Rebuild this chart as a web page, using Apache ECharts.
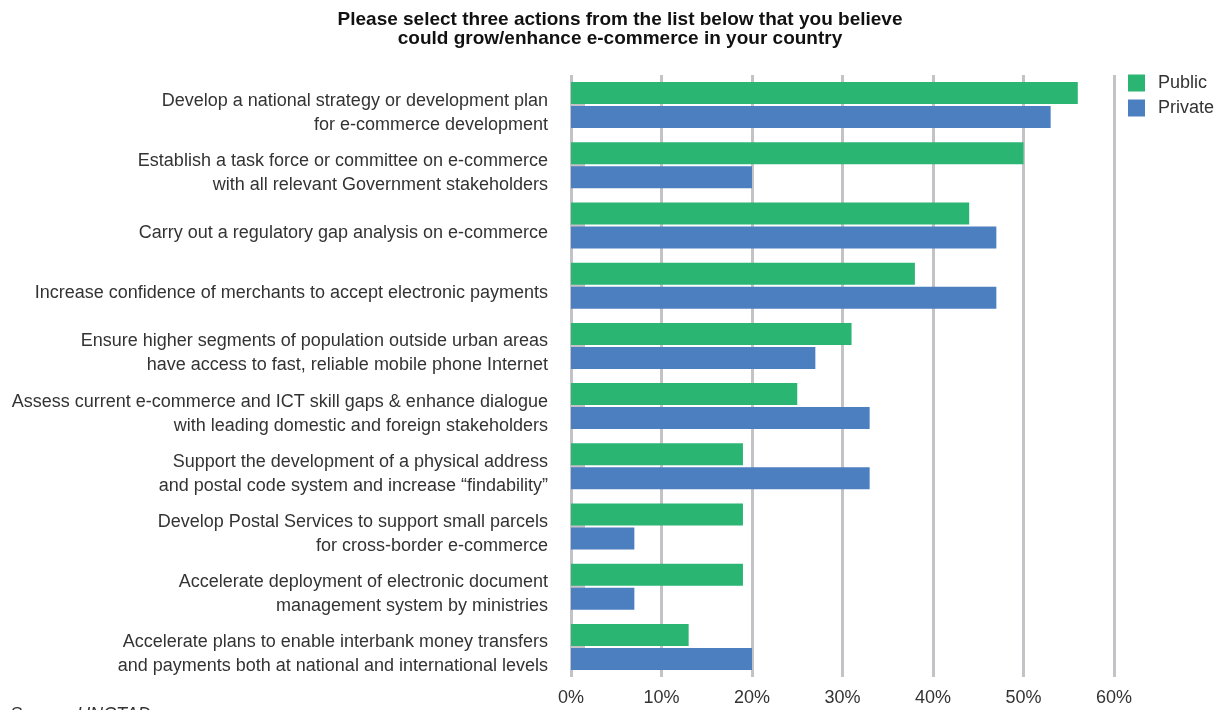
<!DOCTYPE html>
<html>
<head>
<meta charset="utf-8">
<script src="https://cdn.jsdelivr.net/npm/echarts@6/dist/echarts.min.js"></script>
<style>
  html, body { margin: 0; padding: 0; background: #ffffff; }
  #chart { width: 1222px; height: 710px; }
</style>
</head>
<body>
<div id="chart"></div>
<script>
// Survey actions, listed top to bottom
const categories = [
  'Develop a national strategy or development plan\nfor e-commerce development',
  'Establish a task force or committee on e-commerce\nwith all relevant Government stakeholders',
  'Carry out a regulatory gap analysis on e-commerce',
  'Increase confidence of merchants to accept electronic payments',
  'Ensure higher segments of population outside urban areas\nhave access to fast, reliable mobile phone Internet',
  'Assess current e-commerce and ICT skill gaps & enhance dialogue\nwith leading domestic and foreign stakeholders',
  'Support the development of a physical address\nand postal code system and increase \u201cfindability\u201d',
  'Develop Postal Services to support small parcels\nfor cross-border e-commerce',
  'Accelerate deployment of electronic document\nmanagement system by ministries',
  'Accelerate plans to enable interbank money transfers\nand payments both at national and international levels'
];

// Share of respondents (%)
const publicValues  = [56, 50, 44, 38, 31, 25, 19, 19, 19, 13];
const privateValues = [53, 20, 47, 47, 27, 33, 33, 7, 7, 20];

const titleText = 'Please select three actions from the list below that you believe\ncould grow/enhance e-commerce in your country';
const sourceText = 'Source: UNCTAD';

const FONT = "'Liberation Sans Narrow', 'Liberation Sans', Arial, sans-serif";
const GREEN = '#2bb573';
const BLUE = '#4c7fc0';
const GRID_GRAY = '#c3c3c7';
const TEXT = '#333333';

const chart = echarts.init(document.getElementById('chart'), null, { renderer: 'canvas' });

chart.setOption({
  animation: false,
  backgroundColor: '#ffffff',
  textStyle: { fontFamily: FONT },
  title: {
    text: titleText,
    left: 615,
    textAlign: 'center',
    top: 5,
    textStyle: {
      fontFamily: FONT,
      fontSize: 19,
      fontWeight: 'bold',
      color: '#111111',
      lineHeight: 19
    }
  },
  legend: {
    orient: 'vertical',
    left: 1128,
    top: 74,
    padding: 0,
    itemWidth: 17,
    itemHeight: 17,
    itemGap: 7,
    icon: 'rect',
    data: ['Public', 'Private'],
    textStyle: { fontFamily: FONT, fontSize: 18, color: TEXT, padding: [0, 0, 0, 8] }
  },
  grid: {
    left: 571,
    right: 108,
    top: 75,
    bottom: 33,
    containLabel: false
  },
  xAxis: {
    type: 'value',
    min: 0,
    max: 60,
    interval: 10,
    axisLine: { show: false },
    axisTick: { show: false },
    axisLabel: {
      formatter: '{value}%',
      fontFamily: FONT,
      fontSize: 18,
      color: TEXT,
      margin: 12
    },
    splitLine: { show: true, lineStyle: { color: GRID_GRAY, width: 3 } }
  },
  yAxis: {
    type: 'category',
    inverse: true,
    data: categories,
    axisLine: { show: false },
    axisTick: {
      show: true,
      inside: true,
      alignWithLabel: true,
      length: 14,
      lineStyle: { color: GRID_GRAY, width: 3 }
    },
    axisLabel: {
      interval: 0,
      showMinLabel: true,
      showMaxLabel: true,
      hideOverlap: false,
      fontFamily: FONT,
      fontSize: 18,
      lineHeight: 24,
      color: TEXT,
      margin: 23,
      align: 'right',
      // a thin empty first line nudges each label slightly below the band centre
      formatter: function (v) { return '{s|\u200b}\n' + v; },
      rich: { s: { fontSize: 1, lineHeight: 15 } }
    }
  },
  series: [
    {
      name: 'Public',
      type: 'bar',
      data: publicValues,
      barWidth: 22,
      barGap: '9%',
      itemStyle: { color: GREEN }
    },
    {
      name: 'Private',
      type: 'bar',
      data: privateValues,
      barWidth: 22,
      itemStyle: { color: BLUE }
    }
  ],
  graphic: [
    {
      type: 'text',
      left: 10,
      top: 706,
      style: {
        text: sourceText,
        fontFamily: FONT,
        fontSize: 18,
        fontStyle: 'italic',
        fill: TEXT
      }
    }
  ]
});
</script>
</body>
</html>
